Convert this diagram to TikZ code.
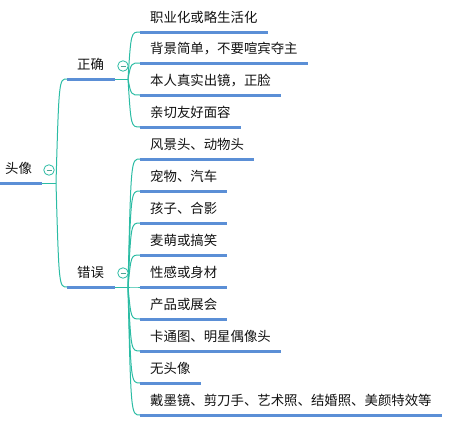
\documentclass[tikz,border=0pt]{standalone}
\usepackage{fontspec}
\setmainfont{Noto Sans CJK SC}
\usetikzlibrary{calc}
\definecolor{teal1}{HTML}{2BBCA4}
\definecolor{ublue}{HTML}{5B8FD6}
\definecolor{txt}{HTML}{111111}
\begin{document}
\begin{tikzpicture}[x=1pt,y=-1pt,
  every node/.style={font=\fontsize{13.4pt}{15pt}\selectfont, text=txt},
  leaf/.style={anchor=south west, inner xsep=10pt, inner ysep=0pt, text height=12pt, text depth=9pt},
  mainb/.style={anchor=south west, inner xsep=10pt, inner ysep=0pt, text height=12pt, text depth=9pt, text width=28pt, align=left},
  rootb/.style={anchor=south west, inner xsep=5pt, inner ysep=0pt, text height=12pt, text depth=9pt, text width=32pt, align=left},
  uline/.style={draw=ublue, line width=3pt},
  conn/.style={draw=teal1, line width=1pt},
  fold/.style={circle, draw=teal1, fill=white, line width=0.8pt, minimum size=10.5pt, inner sep=0pt,
    path picture={\draw[teal1!60!gray, line width=0.9pt] ([xshift=-2.5pt]path picture bounding box.center) -- ([xshift=2.5pt]path picture bounding box.center);}}
]
\useasboundingbox (0,0) rectangle (457,426);
\newcommand\leafnode[3]{\node[leaf] (#1) at (140,#2) {#3}; \draw[uline] (#1.south west) -- (#1.south east);}
\newcommand\curveto[2]{\draw[conn] (#1) .. controls ($(#1 |- #2.south west)+(3,0)$) .. (#2.south west);}

% root
\node[rootb] (root) at (0,183) {头像};
\draw[uline] (root.south west) -- (root.south east);
\coordinate (rp) at (56,183);

% main branches
\node[mainb] (zq) at (67,79) {正确};
\draw[uline] (zq.south west) -- (zq.south east);
\node[mainb] (cw) at (67,287) {错误};
\draw[uline] (cw.south west) -- (cw.south east);
\coordinate (zp) at (128,79);
\coordinate (cp) at (128,287);

% leaves
\leafnode{a1}{32}{职业化或略生活化}
\leafnode{a2}{63}{背景简单，不要喧宾夺主}
\leafnode{a3}{95}{本人真实出镜，正脸}
\leafnode{a4}{127}{亲切友好面容}

\leafnode{b1}{159}{风景头、动物头}
\leafnode{b2}{191}{宠物、汽车}
\leafnode{b3}{223}{孩子、合影}
\leafnode{b4}{255}{麦萌或搞笑}
\leafnode{b5}{287}{性感或身材}
\leafnode{b6}{319}{产品或展会}
\leafnode{b7}{351}{卡通图、明星偶像头}
\leafnode{b8}{383}{无头像}
\leafnode{b9}{415}{戴墨镜、剪刀手、艺术照、结婚照、美颜特效等}

% connectors
\draw[conn] (root.south east) -- (rp);
\curveto{rp}{zq}
\curveto{rp}{cw}
\draw[conn] (zq.south east) -- (zp);
\draw[conn] (cw.south east) -- (cp);
\foreach \n in {a1,a2,a3,a4} {\curveto{zp}{\n}}
\foreach \n in {b1,b2,b3,b4,b5,b6,b7,b8,b9} {\curveto{cp}{\n}}

% fold markers
\node[fold] (rf) at (49,170) {};
\node[fold] (zf) at (123,66) {};
\node[fold] (cf) at (123,273) {};
\end{tikzpicture}
\end{document}
